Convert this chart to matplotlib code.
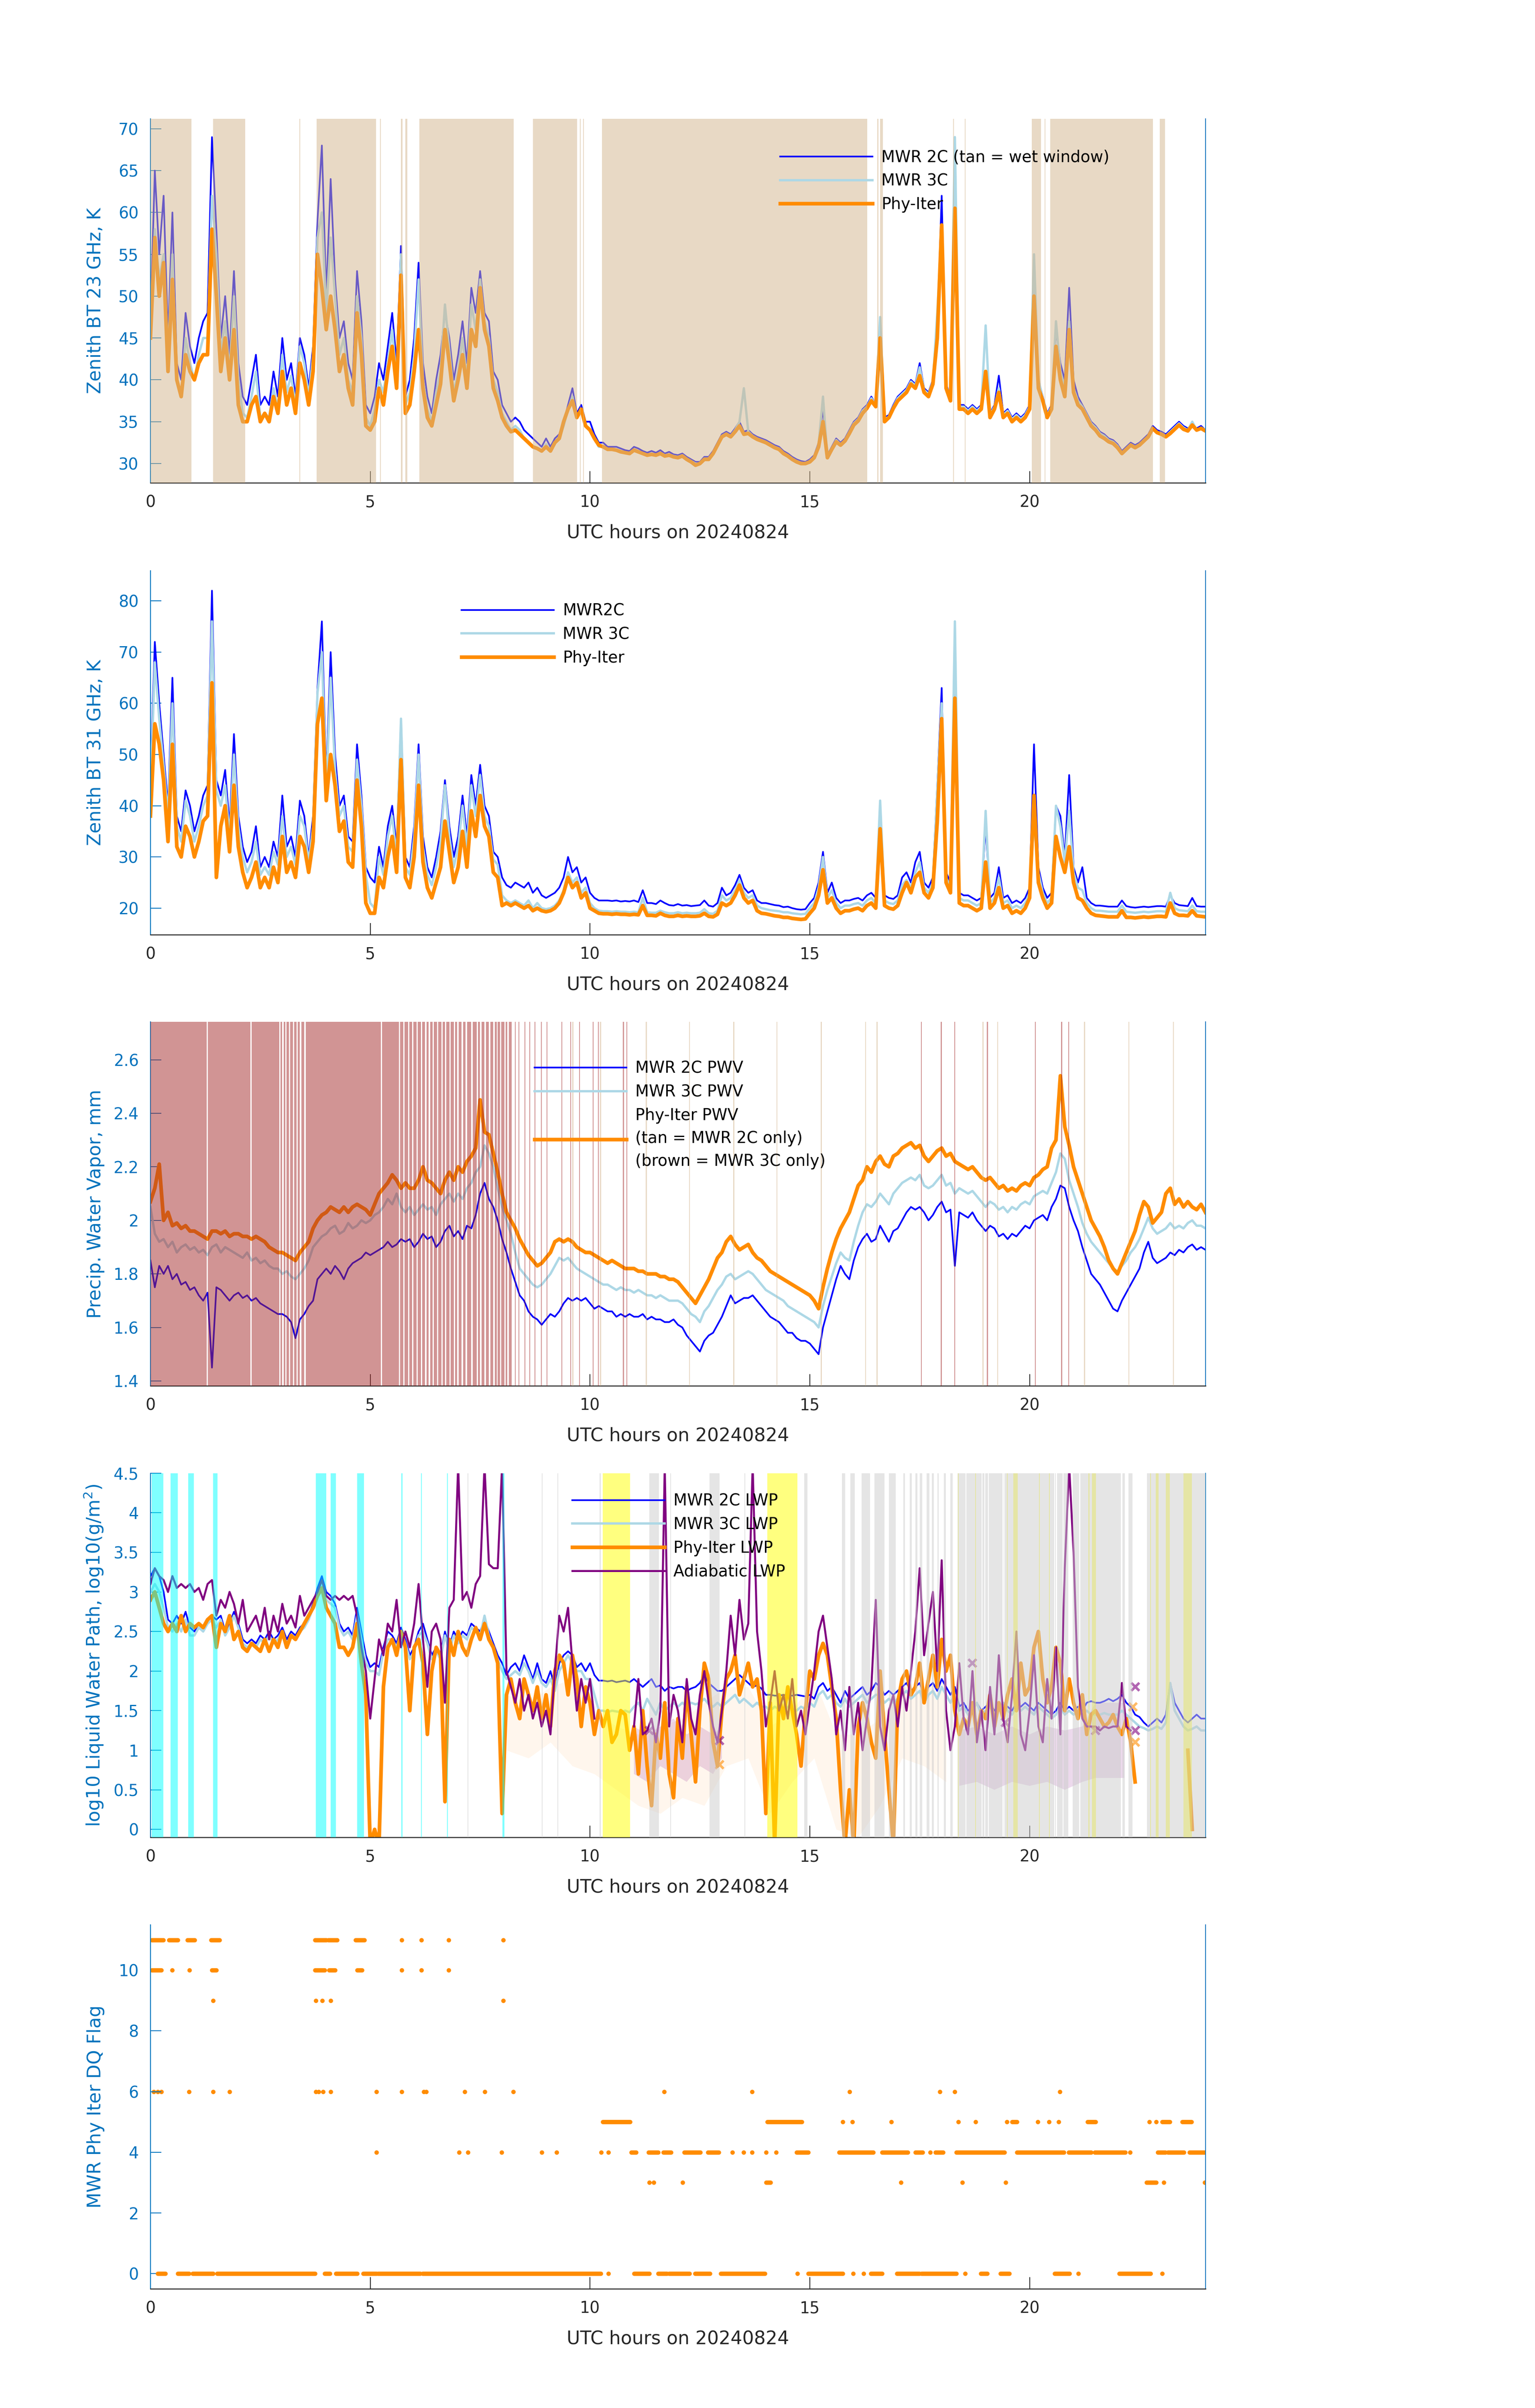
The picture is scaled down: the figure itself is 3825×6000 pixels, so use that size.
import matplotlib
matplotlib.use("Agg")

import matplotlib.pyplot as plt
import numpy as np
from matplotlib.ticker import FuncFormatter


def arr(s):
    return np.array(s.split(), dtype=float)


# time grid, UTC hours, 0.1 h steps
hours = np.linspace(0, 24, 241)

# ---- panel 1: zenith BT 23 GHz (K)
bt23_2c = arr("""
47 65 55 62 45 60 42 40 48 44
42 45 47 48 69 58 45 50 43 53
42 38 37 40 43 37 38 37 41 38
45 40 42 38 45 43 39 44 59 68
50 64 52 45 47 42 40 53 47 37
36 38 42 40 44 48 42 56 38 40
45 54 42 38 36 40 43 48 45 40
43 47 42 51 48 53 48 47 41 40
37 36 35 35.5 35 34 33.5 33 32.5 32
33 32 33 33.5 35 37 39 36 37 35
35 33.5 32.5 32.5 32 32 32 31.8 31.6 31.5
32 31.8 31.5 31.3 31.5 31.3 31.6 31.2 31.4 31.1
31 31.2 30.8 30.5 30.2 30.2 30.8 30.8 31.5 32.5
33.5 33.8 33.5 34.2 35 33.8 34 33.5 33.2 33
32.8 32.5 32.2 32 31.5 31.2 30.8 30.5 30.3 30.2
30.5 31 32.5 36.5 31 32 33 32.5 33 34
35 35.5 36.5 37 38 37 44 35.5 35.8 37
38 38.5 39 40 39.5 42 39 38.5 40 46
62 39.5 38 60 37 37 36.5 37 36.5 37
40 36 37 40.5 36 36.5 35.5 36 35.5 36
37 54 40 38 36 37 46 42 40 51
40 38 37 36 35 34.5 33.8 33.5 33 32.8
32.3 31.5 32 32.5 32.2 32.5 33 33.5 34.5 34
33.8 33.5 34 34.5 35 34.5 34.2 34.5 34.2 34.5
34
""")
bt23_3c = arr("""
45 58 52 55 43 55 40 38 45 42
40 43 45 45 62 55 43 47 41 50
40 36 35.5 38 41 35.5 36 35.5 39 36.5
43 38.5 40.5 37 44 42 38 43 57 60
48 57 50 43 45 40 38.5 50 45 35.5
34.5 36.5 40 38.5 42 46 40 55 37 38.5
43 52 40 36.5 35 38.5 41 49 43.5 38.5
41 45 40 49 46 52 47 45 40 38.5
36 35 34 34.5 34 33 32.5 32 31.8 31.5
32.3 31.5 32.5 33 34.5 36.5 38 35.5 36.5 34.5
34 33 32 32 31.7 31.7 31.7 31.5 31.3 31.2
31.7 31.5 31.2 31 31.2 31 31.3 31 31.1 30.9
30.8 31 30.6 30.3 30 30 30.6 30.6 31.3 32.3
33.3 33.6 33.3 34 35 39 33.8 33.3 33 32.8
32.6 32.3 32 31.8 31.3 31 30.6 30.3 30.1 30
30.3 30.8 32.3 38 30.8 31.8 32.8 32.3 32.8 33.8
34.8 35.3 36.3 36.8 37.8 37 47.5 35.3 35.6 36.8
37.8 38.3 38.8 39.8 39.3 41.5 38.8 38.3 39.8 48
58 39.3 37.8 69 36.8 36.8 36.3 36.8 36.3 36.8
46.5 35.8 36.8 39 35.8 36.3 35.3 35.8 35.3 35.8
36.8 55 40 37.8 35.8 36.8 47 41 39 47
39 37.5 36.8 35.8 34.8 34.3 33.6 33.3 32.8 32.6
32.1 31.3 31.8 32.3 32 32.3 32.8 33.3 34.3 33.8
33.6 33.3 33.8 34.3 34.8 34.3 34 35 34 34.3
34
""")
bt23_phy = arr("""
45 57 50 54 41 52 40 38 43 41
40 42 43 43 58 50 41 45 40 46
37 35 35 37 38 35 36 35 38 36
41 37 39 36 42 40 37 41 55 51
46 50 46 41 43 39 37 48 43 34.5
34 35 39 37 41 44 39 52.5 36 37
41 46 39 35.5 34.5 37 39.5 46 42 37.5
40 43 39 46 44 51 46 44 39 37.5
35.5 34.5 33.8 34 33.5 33 32.5 32 31.8 31.5
32 31.5 32.5 33 35 36.5 37.5 35.5 36.5 34.5
34 33 32.2 32 31.7 31.7 31.6 31.4 31.3 31.2
31.6 31.4 31.2 31 31.1 31 31.2 30.9 31 30.8
30.7 30.9 30.5 30.2 29.8 30 30.5 30.5 31.2 32.2
33.2 33.5 33.2 33.8 34.5 33.5 33.6 33.2 32.9 32.7
32.5 32.2 31.9 31.7 31.2 30.9 30.5 30.2 30 30
30.2 30.7 32 35 30.7 31.7 32.6 32.2 32.7 33.6
34.6 35.1 36 36.6 37.5 36.8 45 35 35.5 36.6
37.5 38 38.5 39.5 39 40.5 38.5 38 39.5 45
58.5 39 37.5 60.5 36.5 36.5 36 36.5 36 36.5
41 35.5 36.5 38.5 35.5 36 35 35.5 35 35.5
36.5 50 39 37.5 35.5 36.5 44 40 38 46
38.5 37 36.5 35.5 34.5 34 33.3 33 32.6 32.4
31.9 31.2 31.7 32.2 31.9 32.2 32.7 33.2 34.2 33.7
33.5 33.2 33.6 34.1 34.6 34.1 33.9 34.6 34 34.2
33.9
""")
wet_spans = [(0, 0.93), (1.43, 2.16), (3.39, 3.41), (3.78, 5.13), (5.22, 5.24),
             (5.70, 5.73), (5.80, 5.84), (6.12, 8.26), (8.70, 9.71), (9.77, 9.79),
             (9.84, 9.86), (10.27, 16.31), (16.53, 16.56), (16.60, 16.66),
             (18.26, 18.28), (18.52, 18.54), (20.05, 20.26), (20.34, 20.36),
             (20.47, 22.81), (22.96, 23.08)]

# ---- panel 2: zenith BT 31 GHz (K)
bt31_2c = arr("""
45 72 60 50 40 65 38 35 43 40
35 38 42 44 82 45 42 47 36 54
38 32 29 31 36 28 30 28 33 30
42 32 34 30 41 38 30 38 63 76
45 70 50 40 42 34 33 52 42 28
26 25 32 28 36 40 32 57 30 28
36 52 34 28 26 30 35 45 36 30
34 42 34 46 40 48 40 38 31 30
26 24.5 24 25 24.5 24 25 23 24 22.5
22 22.5 23 24 26 30 27 28 25 26
23 22 21.5 21.5 21.5 21.4 21.5 21.3 21.4 21.3
21.5 21.2 23.5 21 21 20.8 21.5 21 20.6 20.5
20.8 20.5 20.6 20.4 20.5 20.6 21.5 20.5 20.3 21
24 22.5 23 24.5 26.5 24 23 23.5 21.5 21
21 20.8 20.6 20.5 20.2 20.3 20 19.8 19.7 19.8
21 22 25 31 23 25 22 21 21.5 21.5
21.8 22 21.5 22.5 23 22 38 22.5 22 21.8
22.5 26 27 25 29 31 25 24 26 44
63 27 25 70 23 22.5 22.5 22 21.5 22
36 22 23 28 22 22.5 21 21.5 21 22
24 52 28 24 22 23 40 38 30 46
28 25 28 22 21 20.5 20.5 20.4 20.3 20.3
20.3 21.5 20.4 20.2 20.1 20.2 20.3 20.2 20.3 20.4
20.4 20.3 22.5 21 20.6 20.5 20.4 22 20.4 20.3
20.3
""")
bt31_3c = arr("""
42 68 57 48 38 60 36 33 41 38
33 36 40 42 76 43 40 44 34 50
36 30 27 29 33 26.5 28 26.5 31 28.5
38 30 32 28.5 38 36 29 36 62 70
43 65 47 38 40 32 31 49 40 26.5
21 20 30 26.5 34 38 30 57 28 26.5
34 50 32 26.5 24.5 28 33 44 34 28
32 40 32 44 38 46 38 36 29.5 28.5
22.5 21.5 21 21.5 21 20.5 21.5 20 21 20
19.8 20 20.5 21.5 23.5 27 25 26 23 24
21 20 19.5 19.4 19.4 19.3 19.4 19.3 19.3 19.2
19.3 19.2 22 19.2 19.1 19.1 19.5 19.2 19 19
19.2 19 19.1 19 19 19.1 19.8 19 18.9 19.5
22.5 21.5 22 23.5 25.5 23 22 22.5 20.5 20
19.8 19.6 19.5 19.4 19.2 19.2 19 18.9 18.8 18.9
20 21 24 30 22 23.5 21 20 20.5 20.5
20.8 21 20.5 21.5 22 21 41 21.5 21 20.8
21.5 24.5 25.5 24 27 29 24 23 25 43
60 26 24 76 22 21.5 21.5 21 20.5 21
39 21 22 26 21 21.5 20 20.5 20 21
23 37 27 23 21 22 40 36 29 39
27 24 23.5 21 20 19.5 19.5 19.4 19.3 19.3
19.3 20.5 19.3 19.2 19.1 19.2 19.3 19.2 19.3 19.4
19.4 19.3 23 20 19.6 19.5 19.4 20.5 19.4 19.3
19.3
""")
bt31_phy = arr("""
38 56 52 45 33 52 32 30 36 34
30 33 37 38 64 26 36 40 31 44
32 27 24 26 29 24 26 24 28 25
34 27 29 26 34 32 27 33 56 61
41 50 44 35 37 29 28 45 36 21
19 19 26 24 30 34 27 49 26 24
30 44 29 24 22 25 28 37 31 25
28 35 28 39 34 42 36 34 27 26
20.5 21 20.5 21 20.5 20 20.5 19.5 20 19.5
19.3 19.5 20 21 23 26 24 25 22 23
20 19.5 19 18.9 18.9 18.8 18.9 18.8 18.8 18.7
18.8 18.7 20.5 18.6 18.6 18.5 19 18.6 18.4 18.4
18.6 18.4 18.5 18.4 18.4 18.5 19 18.4 18.3 18.8
21 20.5 21 22.5 24.5 22 21 21.5 19.5 19
18.9 18.7 18.5 18.4 18.2 18.2 18 17.9 17.8 17.9
19 20 22.5 27.5 21 22 20 19 19.5 19.5
19.8 20 19.5 20.5 21 20 35.5 20.5 20 19.8
20.5 23 25 23 26 27 23 22 24 37
57 25 23 61 21 20.5 20.5 20 19.5 20
29 20 21 24 20 20.5 19 19.5 19 20
22 42 25 22 20 21 34 30 27 32
25 22 21.5 20 19 18.6 18.5 18.4 18.3 18.3
18.3 19.5 18.2 18.2 18.1 18.2 18.3 18.2 18.3 18.4
18.4 18.3 21 19 18.6 18.6 18.5 19.5 18.5 18.4
18.3
""")

# ---- panel 3: precipitable water vapour (mm)
pwv_2c = arr("""
1.85 1.75 1.83 1.80 1.83 1.78 1.80 1.76 1.77 1.74
1.75 1.72 1.70 1.73 1.45 1.75 1.74 1.72 1.70 1.72
1.73 1.71 1.72 1.70 1.71 1.69 1.68 1.67 1.66 1.65
1.65 1.64 1.62 1.56 1.63 1.65 1.68 1.70 1.78 1.80
1.82 1.80 1.83 1.81 1.78 1.82 1.84 1.85 1.86 1.88
1.87 1.88 1.89 1.90 1.92 1.90 1.91 1.93 1.92 1.93
1.90 1.92 1.95 1.93 1.94 1.90 1.92 1.96 1.98 1.94
1.96 1.93 1.98 1.97 2.02 2.10 2.14 2.08 2.05 2.00
1.93 1.88 1.82 1.77 1.72 1.70 1.66 1.64 1.63 1.61
1.63 1.65 1.64 1.66 1.69 1.71 1.70 1.71 1.70 1.71
1.69 1.67 1.68 1.67 1.66 1.66 1.64 1.65 1.64 1.65
1.64 1.64 1.65 1.63 1.64 1.63 1.63 1.62 1.62 1.63
1.61 1.60 1.57 1.55 1.53 1.51 1.55 1.57 1.58 1.61
1.64 1.68 1.72 1.69 1.70 1.71 1.71 1.72 1.70 1.68
1.66 1.64 1.63 1.62 1.60 1.58 1.58 1.56 1.55 1.55
1.54 1.52 1.50 1.60 1.66 1.72 1.78 1.83 1.80 1.78
1.85 1.90 1.93 1.95 1.92 1.93 1.98 1.95 1.92 1.96
1.97 2.00 2.03 2.05 2.04 2.05 2.03 2.00 2.02 2.05
2.07 2.03 2.04 1.83 2.03 2.02 2.01 2.03 2.00 1.98
1.96 1.98 1.97 1.94 1.95 1.93 1.95 1.94 1.96 1.98
1.97 2.00 2.01 2.02 2.00 2.05 2.08 2.13 2.12 2.05
2.00 1.96 1.90 1.85 1.80 1.78 1.76 1.73 1.70 1.67
1.66 1.70 1.73 1.76 1.79 1.82 1.88 1.92 1.86 1.84
1.85 1.86 1.88 1.87 1.89 1.88 1.90 1.91 1.89 1.90
1.89
""")
pwv_3c = arr("""
2.05 1.95 1.92 1.93 1.90 1.92 1.88 1.90 1.91 1.89
1.90 1.88 1.89 1.87 1.90 1.91 1.88 1.90 1.89 1.88
1.87 1.86 1.88 1.85 1.86 1.84 1.85 1.83 1.82 1.82
1.80 1.81 1.79 1.78 1.80 1.82 1.85 1.90 1.92 1.94
1.95 1.97 1.98 1.95 1.96 1.99 1.97 1.98 2.00 1.99
2.00 2.02 2.03 2.05 2.08 2.06 2.10 2.05 2.03 2.05
2.02 2.04 2.06 2.04 2.05 2.02 2.06 2.08 2.10 2.07
2.10 2.08 2.12 2.14 2.18 2.20 2.28 2.25 2.20 2.12
2.05 2.00 1.95 1.88 1.82 1.80 1.78 1.76 1.75 1.76
1.78 1.80 1.83 1.86 1.85 1.86 1.84 1.82 1.81 1.80
1.79 1.78 1.77 1.76 1.76 1.75 1.74 1.75 1.74 1.74
1.73 1.74 1.73 1.72 1.72 1.71 1.72 1.71 1.70 1.70
1.70 1.69 1.67 1.65 1.64 1.62 1.66 1.68 1.71 1.74
1.76 1.79 1.80 1.78 1.79 1.80 1.81 1.80 1.78 1.76
1.74 1.73 1.72 1.71 1.70 1.68 1.67 1.66 1.65 1.64
1.63 1.62 1.60 1.68 1.74 1.79 1.84 1.88 1.86 1.85
1.92 1.98 2.03 2.06 2.05 2.07 2.10 2.08 2.06 2.10
2.12 2.14 2.15 2.16 2.15 2.17 2.13 2.12 2.13 2.15
2.17 2.13 2.14 2.10 2.12 2.11 2.10 2.11 2.09 2.07
2.05 2.07 2.06 2.04 2.05 2.03 2.05 2.04 2.06 2.07
2.06 2.09 2.10 2.11 2.10 2.14 2.18 2.25 2.23 2.15
2.10 2.05 1.99 1.95 1.92 1.90 1.88 1.86 1.84 1.82
1.81 1.83 1.85 1.88 1.90 1.93 1.97 2.01 1.97 1.95
1.96 1.97 1.99 1.97 1.98 1.97 1.99 2.00 1.98 1.98
1.97
""")
pwv_phy = arr("""
2.07 2.12 2.21 2.00 2.03 1.98 1.99 1.97 1.98 1.96
1.96 1.95 1.94 1.93 1.96 1.96 1.95 1.96 1.94 1.95
1.95 1.94 1.94 1.93 1.94 1.93 1.92 1.90 1.89 1.88
1.88 1.87 1.86 1.85 1.88 1.90 1.92 1.97 2.00 2.02
2.03 2.05 2.04 2.03 2.05 2.03 2.05 2.06 2.05 2.04
2.02 2.06 2.10 2.12 2.14 2.17 2.15 2.12 2.14 2.12
2.12 2.15 2.20 2.15 2.14 2.12 2.10 2.15 2.18 2.15
2.20 2.18 2.22 2.24 2.27 2.45 2.33 2.32 2.25 2.18
2.10 2.03 2.00 1.97 1.93 1.90 1.87 1.85 1.83 1.84
1.86 1.88 1.92 1.93 1.92 1.93 1.92 1.90 1.89 1.88
1.88 1.87 1.86 1.85 1.84 1.85 1.84 1.83 1.82 1.82
1.82 1.81 1.81 1.80 1.80 1.80 1.79 1.79 1.78 1.78
1.77 1.75 1.73 1.71 1.69 1.72 1.75 1.78 1.82 1.86
1.88 1.92 1.94 1.91 1.89 1.90 1.91 1.88 1.86 1.85
1.83 1.81 1.80 1.79 1.78 1.77 1.76 1.75 1.74 1.73
1.72 1.70 1.67 1.75 1.82 1.88 1.93 1.97 2.00 2.03
2.08 2.13 2.15 2.20 2.18 2.22 2.24 2.21 2.20 2.24
2.25 2.27 2.28 2.29 2.27 2.28 2.24 2.22 2.24 2.26
2.27 2.24 2.25 2.22 2.21 2.20 2.19 2.20 2.18 2.16
2.15 2.16 2.14 2.12 2.13 2.11 2.12 2.11 2.13 2.14
2.13 2.16 2.17 2.19 2.20 2.27 2.30 2.54 2.35 2.28
2.20 2.15 2.10 2.05 2.00 1.97 1.94 1.90 1.85 1.82
1.80 1.84 1.88 1.92 1.96 2.02 2.07 2.05 1.99 2.01
2.03 2.10 2.12 2.06 2.08 2.05 2.07 2.05 2.04 2.06
2.03
""")
brown_spans = [(0, 1.28), (1.31, 2.27), (2.30, 2.93), (2.96, 3.00), (3.03, 3.07),
               (3.10, 3.15), (3.18, 3.24), (3.27, 3.32), (3.35, 3.40), (3.43, 3.50),
               (3.53, 5.24), (5.27, 5.65), (5.68, 5.75), (5.78, 5.86), (5.89, 5.95),
               (5.98, 6.05), (6.08, 6.15), (6.18, 6.25), (6.28, 6.33), (6.36, 6.42),
               (6.45, 6.52), (6.55, 6.62), (6.65, 6.70), (6.73, 6.80), (6.83, 6.90),
               (6.93, 6.98), (7.01, 7.08), (7.11, 7.17), (7.20, 7.30), (7.33, 7.42),
               (7.45, 7.50), (7.53, 7.60), (7.63, 7.70), (7.73, 7.80), (7.83, 7.88),
               (7.90, 7.95), (7.98, 8.05), (8.08, 8.12), (8.15, 8.22)]
brown_lines = [8.30, 8.38, 8.52, 8.63, 8.75, 8.89, 9.02, 9.36, 9.56, 9.76, 10.07,
               10.19, 10.76, 10.84, 17.54, 17.99, 18.30, 19.04, 20.13, 20.73, 20.89]
tan_lines = [9.61, 10.24, 11.28, 12.26, 13.27, 14.25, 15.26, 16.27, 16.53, 18.94,
             19.27, 21.25, 22.26, 23.27]

# ---- panel 4: log10 liquid water path
lwp_2c = arr("""
3.2 3.3 3.2 3.0 2.65 2.6 2.7 2.6 2.75 2.55
2.5 2.6 2.55 2.65 2.7 2.65 2.7 2.5 2.6 2.75
2.6 2.4 2.35 2.4 2.35 2.45 2.4 2.5 2.4 2.45
2.55 2.4 2.5 2.45 2.55 2.6 2.7 2.85 3.05 3.2
3.0 2.95 2.85 2.6 2.5 2.55 2.45 2.8 2.5 2.2
2.05 2.1 2.05 2.3 2.5 2.45 2.35 2.55 2.4 2.2
2.3 2.5 2.6 2.4 2.2 2.3 2.2 2.5 2.3 2.5
2.4 2.5 2.45 2.6 2.55 2.5 2.65 2.5 2.35 2.2
2.1 1.95 2.05 2.1 2.0 2.2 2.05 1.9 2.1 1.9
1.85 2.0 1.8 2.1 2.2 2.25 2.2 2.05 2.1 2.0
2.1 1.95 1.88 1.88 1.87 1.88 1.86 1.87 1.88 1.86
1.9 1.85 1.8 1.85 1.9 1.8 1.82 1.75 1.8 1.78
1.8 1.8 1.75 1.78 1.8 1.85 1.95 1.85 1.8 1.75
1.75 1.8 1.85 1.9 1.95 1.9 1.85 1.8 1.82 1.78
1.7 1.7 1.69 1.69 1.7 1.69 1.69 1.7 1.69 1.68
1.7 1.65 1.8 1.85 1.75 1.8 1.7 1.6 1.75 1.65
1.7 1.75 1.8 1.7 1.75 1.85 1.8 1.7 1.75 1.7
1.75 1.8 1.85 1.75 1.8 1.85 1.7 1.8 1.85 1.75
1.9 1.8 1.7 1.8 1.55 1.6 1.5 1.55 1.6 1.5
1.55 1.6 1.5 1.55 1.6 1.55 1.5 1.6 1.55 1.6
1.55 1.5 1.6 1.55 1.5 1.45 1.5 1.6 1.5 1.55
1.5 1.55 1.5 1.6 1.62 1.6 1.6 1.62 1.65 1.62
1.65 1.7 1.6 1.55 1.45 1.42 1.35 1.3 1.35 1.4
1.35 1.45 1.85 1.6 1.5 1.4 1.35 1.4 1.45 1.4
1.4
""")
lwp_3c = arr("""
3.0 3.1 3.0 2.8 2.55 2.5 2.6 2.5 2.65 2.45
2.45 2.55 2.5 2.6 2.65 2.55 2.65 2.45 2.55 2.7
2.55 2.35 2.3 2.35 2.3 2.4 2.35 2.45 2.35 2.4
2.5 2.35 2.45 2.4 2.5 2.55 2.65 2.8 2.95 3.1
2.9 2.85 2.8 2.55 2.45 2.5 2.4 2.7 2.4 2.1
2.0 2.0 1.95 2.25 2.4 2.4 2.3 2.5 2.35 2.15
2.25 2.45 2.5 2.35 2.15 2.25 2.15 2.45 2.25 2.45
2.35 2.45 2.4 2.55 2.5 2.45 2.7 2.45 2.3 2.15
2.0 1.9 1.95 2.0 1.95 2.1 2.0 1.85 2.0 1.85
1.8 1.9 1.75 2.0 2.1 2.2 2.1 2.0 2.0 1.9
1.9 1.7 1.5 1.5 1.48 1.5 1.49 1.48 1.5 1.48
1.55 1.6 1.5 1.65 1.55 1.45 1.6 1.5 1.55 1.6
1.55 1.6 1.55 1.6 1.58 1.6 1.65 1.58 1.55 1.6
1.55 1.6 1.65 1.7 1.6 1.65 1.6 1.55 1.6 1.55
1.55 1.5 1.55 1.52 1.5 1.55 1.52 1.5 1.55 1.52
1.6 1.55 1.7 1.75 1.65 1.7 1.6 1.55 1.65 1.55
1.6 1.65 1.7 1.6 1.65 1.7 1.7 1.6 1.65 1.6
1.65 1.7 1.75 1.65 1.7 1.75 1.6 1.7 1.75 1.65
1.8 1.7 1.6 1.7 1.5 1.55 1.45 1.5 1.6 1.45
1.5 1.55 1.45 1.5 1.6 1.5 1.45 1.55 1.5 1.55
1.5 1.45 1.55 1.5 1.45 1.4 1.45 1.55 1.45 1.5
1.45 1.5 1.45 1.5 1.45 1.45 1.45 1.47 1.45 1.45
1.45 1.5 1.45 1.4 1.35 1.3 1.28 1.25 1.27 1.3
1.27 1.35 1.85 1.5 1.4 1.3 1.25 1.27 1.3 1.25
1.25
""")
lwp_phy = arr("""
2.9 3.0 2.8 2.6 2.5 2.6 2.5 2.7 2.5 2.6
2.55 2.6 2.55 2.65 2.7 2.3 2.6 2.5 2.7 2.4
2.5 2.3 2.25 2.35 2.3 2.25 2.4 2.25 2.4 2.3
2.5 2.3 2.45 2.4 2.5 2.6 2.7 2.8 2.95 3.05
2.8 2.7 2.6 2.3 2.3 2.2 2.3 2.6 2.1 1.7
-0.2 0.0 -0.2 1.8 2.3 2.4 2.2 2.5 2.3 1.5
2.3 2.4 2.1 1.2 2.0 2.3 2.2 0.35 2.4 2.2
2.5 2.3 2.2 2.4 2.55 2.4 2.6 2.4 2.3 2.1
0.2 1.7 1.9 1.6 1.4 1.9 1.7 1.5 1.8 1.4
1.7 1.3 2.0 2.2 2.1 1.7 2.2 1.9 1.3 1.8
1.6 1.2 1.5 1.3 1.5 1.1 1.2 1.5 1.45 1.0
1.3 0.7 1.5 0.8 0.3 1.2 0.9 1.6 0.7 0.4
1.4 0.9 1.8 1.2 0.6 1.5 2.1 1.9 1.1 0.8
1.5 1.9 2.0 2.2 1.7 1.9 2.1 1.8 1.9 1.5
0.2 1.6 -0.2 1.7 1.4 1.8 1.5 1.2 0.8 1.5
2.0 1.9 2.2 2.35 2.2 1.8 1.4 0.5 -0.2 0.5
-0.2 1.3 1.6 1.4 1.1 0.9 2.0 1.2 0.5 -0.2
1.6 1.9 2.0 1.7 1.8 2.1 1.6 1.9 2.2 1.8
2.4 2.0 2.2 1.5 1.2 1.4 1.3 1.6 1.2 1.5
1.4 1.7 1.3 1.6 1.4 1.7 1.9 1.5 2.1 1.7
1.8 2.3 2.5 1.9 1.6 1.8 2.3 2.1 1.5 1.9
1.6 1.4 1.7 1.2 1.45 1.5 1.4 1.3 1.35 1.45
1.3 1.2 1.4 1.1 0.6 nan nan nan nan nan
nan nan nan nan nan nan 1.0 0.0 nan nan
nan
""")
lwp_adiab = arr("""
3.1 3.3 3.2 3.15 3.0 3.2 3.05 3.1 3.05 3.1
3.0 3.05 2.9 3.1 3.15 2.7 2.9 2.8 3.0 2.85
2.6 2.9 2.5 2.6 2.7 2.5 2.8 2.4 2.7 2.5
2.85 2.6 2.7 2.55 2.95 2.7 2.8 2.9 3.0 3.15
2.95 2.9 2.95 2.9 2.95 2.9 2.95 2.7 2.3 2.0
1.4 1.9 2.4 2.2 2.6 2.5 2.9 2.3 2.5 2.3
2.6 3.1 2.4 1.8 2.5 2.6 2.4 1.6 2.8 2.9
4.6 2.9 3.0 2.8 3.1 3.2 4.6 3.35 3.3 3.3
4.6 2.0 1.8 1.6 1.9 1.5 1.7 1.4 1.6 1.3
1.5 1.2 2.0 2.7 2.5 2.8 2.1 1.5 1.9 1.6
1.9 1.4 nan nan nan nan nan nan nan nan
1.3 1.9 1.2 1.25 1.4 1.1 1.5 4.6 1.3 1.7
1.5 1.1 1.9 1.4 1.2 1.7 2.0 1.6 1.3 1.1
1.5 2.0 2.7 2.2 2.9 2.4 2.6 4.6 2.5 2.0
1.3 1.6 2.0 1.5 1.7 1.4 1.9 1.3 1.5 1.2
1.6 2.0 2.5 2.7 2.3 1.9 1.2 1.5 1.0 1.8
1.2 1.6 1.0 1.4 1.8 2.9 1.3 1.0 1.5 1.7
1.3 1.8 1.5 2.0 2.5 3.3 2.2 2.6 3.0 2.0
3.4 1.5 1.0 1.3 2.1 1.4 1.2 2.0 1.1 1.5
1.0 1.8 1.2 2.2 1.4 1.1 1.7 2.5 1.2 1.0
1.5 2.2 1.3 1.1 1.9 1.4 2.3 1.2 3.3 4.6
3.5 1.8 1.4 1.3 1.3 1.3 1.25 1.3 1.28 1.3
1.3 1.85 1.3 1.25 nan nan nan nan nan nan
nan nan nan nan nan nan 1.2 nan nan nan
nan
""")
# faint uncertainty envelopes (adiabatic and Phy-Iter)
adiab_band_t = [11.0, 11.3, 11.6, 11.9, 12.2, 12.5, 12.8, 13.0, np.nan,
                18.4, 18.8, 19.2, 19.6, 20.0, 20.4, 20.8, 21.2, 21.5, 21.8, 22.15]
adiab_band_lo = [0.7, 0.6, 0.8, 0.7, 0.6, 0.8, 0.7, 0.9, np.nan,
                 0.55, 0.6, 0.5, 0.6, 0.55, 0.6, 0.5, 0.6, 0.65, 0.65, 0.65]
adiab_band_hi = [1.3, 1.2, 1.3, 1.4, 1.2, 1.3, 1.2, 1.3, np.nan,
                 1.25, 1.3, 1.2, 1.3, 1.2, 1.3, 1.25, 1.3, 1.6, 1.6, 1.6]
phy_band_t = [8.1, 8.6, 9.1, 9.6, 10.1, 10.6, 11.1, 11.6, 12.1, 12.6, 13.1,
              13.6, 14.1, 14.6, 15.1, 15.6, 16.1, 16.6, 17.1, 17.6, 18.1]
phy_band_lo = [1.0, 0.9, 1.1, 0.8, 0.7, 0.5, 0.3, 0.2, 0.4, 0.3, 0.8,
               0.9, 0.2, 0.6, 0.9, 0.0, -0.1, 0.3, 0.9, 0.8, 0.6]
phy_band_hi = [1.7, 1.6, 1.8, 1.9, 1.5, 1.3, 1.2, 1.3, 1.4, 1.6, 1.8,
               1.8, 1.3, 1.5, 1.9, 1.2, 1.2, 1.4, 1.8, 1.8, 1.9]
adiab_x_t = [11.35, 12.95, 18.7, 19.45, 21.5, 22.4, 22.4]
adiab_x_v = [1.25, 1.12, 2.1, 1.35, 1.25, 1.8, 1.25]
phy_x_t = [12.95, 22.4, 22.35]
phy_x_v = [0.82, 1.1, 1.55]
cyan_spans = [(0.03, 0.29), (0.46, 0.62), (0.86, 0.99), (1.43, 1.53), (3.76, 4.0),
              (4.1, 4.22), (4.7, 4.86), (5.71, 5.73), (6.15, 6.17), (6.75, 6.77),
              (8.01, 8.05)]
yellow_spans = [(10.29, 10.91), (14.03, 14.72), (18.37, 18.39), (18.76, 18.78),
                (19.48, 19.5), (19.63, 19.73), (20.21, 20.23), (20.44, 20.46),
                (21.34, 21.36), (21.42, 21.51), (22.74, 22.76), (22.87, 22.93),
                (23.1, 23.19), (23.5, 23.69)]
gray_spans = [(7.21, 7.23), (8.9, 8.92), (9.26, 9.28), (10.22, 10.24), (11.35, 11.57),
              (11.82, 11.84), (12.72, 12.95), (13.51, 13.53), (14.87, 14.95),
              (15.73, 15.8), (15.92, 16.02), (16.18, 16.37), (16.47, 16.7),
              (16.8, 16.95), (17.13, 17.16), (17.27, 17.32), (17.4, 17.45),
              (17.5, 17.56), (17.66, 17.72), (17.78, 17.82), (17.9, 17.93),
              (18.05, 18.1), (18.2, 18.25), (18.36, 18.54), (18.56, 18.91),
              (18.93, 18.97), (18.99, 19.05), (19.07, 19.38), (19.4, 19.41),
              (19.43, 20.56), (20.58, 20.6), (20.62, 20.75), (20.77, 20.88),
              (20.98, 21.13), (21.15, 22.08), (22.11, 22.17), (22.25, 22.34),
              (22.67, 24.0)]

# ---- panel 5: DQ flag, runs (flag, start, end) and single samples (flag, time)
flag_runs = [
    (11, 0.03, 0.29), (11, 0.42, 0.62), (11, 0.84, 1.01), (11, 1.38, 1.57),
    (11, 3.74, 4.0), (11, 4.05, 4.25), (11, 4.67, 4.87),
    (10, 0.03, 0.25), (10, 1.4, 1.5), (10, 3.74, 3.96), (10, 4.06, 4.2), (10, 4.7, 4.81),
    (5, 10.29, 10.91), (5, 14.03, 14.82), (5, 19.6, 19.71), (5, 21.32, 21.5),
    (5, 23.02, 23.19), (5, 23.47, 23.68),
    (4, 10.94, 11.05), (4, 11.33, 11.55), (4, 11.67, 11.84), (4, 12.14, 12.51),
    (4, 12.68, 12.93), (4, 14.7, 14.96), (4, 15.67, 16.44), (4, 16.64, 17.23),
    (4, 17.4, 17.57), (4, 17.86, 18.03), (4, 18.33, 19.43), (4, 19.71, 20.78),
    (4, 20.89, 21.4), (4, 21.48, 22.18), (4, 22.92, 23.09), (4, 23.14, 23.51),
    (4, 23.64, 23.98),
    (3, 14.01, 14.11), (3, 22.66, 22.88),
    (0, 0.17, 0.34), (0, 0.62, 0.88), (0, 0.96, 1.43), (0, 1.52, 3.74), (0, 3.96, 4.08),
    (0, 4.22, 4.7), (0, 4.84, 5.14), (0, 5.18, 6.14), (0, 6.19, 10.24), (0, 11.0, 11.35),
    (0, 11.55, 11.75), (0, 11.8, 12.26), (0, 12.39, 12.73), (0, 12.97, 13.98),
    (0, 14.96, 15.75), (0, 16.39, 16.64), (0, 16.98, 17.49), (0, 17.54, 18.33),
    (0, 18.89, 19.04), (0, 19.34, 19.54), (0, 20.57, 20.91), (0, 22.04, 22.75)]
flag_dots = [
    (11, 5.72), (11, 6.16), (11, 6.78), (11, 8.03),
    (10, 0.49), (10, 0.89), (10, 5.72), (10, 6.16), (10, 6.78),
    (9, 1.43), (9, 3.76), (9, 3.91), (9, 4.1), (9, 8.03),
    (6, 0.07), (6, 0.17), (6, 0.25), (6, 0.88), (6, 1.43), (6, 1.8), (6, 3.76),
    (6, 3.83), (6, 3.93), (6, 4.1), (6, 5.14), (6, 5.72), (6, 6.22), (6, 6.27),
    (6, 7.15), (6, 7.61), (6, 8.25), (6, 11.69), (6, 13.69), (6, 15.9), (6, 17.96),
    (6, 18.3), (6, 20.69),
    (5, 15.75), (5, 15.97), (5, 16.85), (5, 18.38), (5, 18.77), (5, 19.48),
    (5, 20.19), (5, 20.44), (5, 20.66), (5, 22.72), (5, 22.88),
    (4, 5.14), (4, 7.02), (4, 7.22), (4, 7.99), (4, 8.9), (4, 9.24), (4, 10.25),
    (4, 10.42), (4, 13.24), (4, 13.49), (4, 13.69), (4, 14.01), (4, 14.23), (4, 17.74),
    (4, 22.29),
    (3, 11.35), (3, 11.45), (3, 12.11), (3, 17.07), (3, 18.47), (3, 19.46), (3, 23.05),
    (3, 23.98),
    (0, 10.42), (0, 14.72), (0, 15.99), (0, 16.22), (0, 18.53), (0, 21.11), (0, 23.02)]

for nm, a in [("bt23_2c", bt23_2c), ("bt23_3c", bt23_3c), ("bt23_phy", bt23_phy),
              ("bt31_2c", bt31_2c), ("bt31_3c", bt31_3c), ("bt31_phy", bt31_phy),
              ("pwv_2c", pwv_2c), ("pwv_3c", pwv_3c), ("pwv_phy", pwv_phy),
              ("lwp_2c", lwp_2c), ("lwp_3c", lwp_3c), ("lwp_phy", lwp_phy),
              ("lwp_adiab", lwp_adiab)]:
    assert len(a) == len(hours), (nm, len(a))

c_ax = "#0072BD"
c_k = "#262626"
c_2c = "#0000FF"
c_3c = "#ADD8E6"
c_phy = "#FF8C00"
c_ad = "#800080"

fig = plt.figure(figsize=(12.75, 20), dpi=300)
L, W, H = 0.098, 0.6873, 0.1512
bots = [0.7995, 0.6118, 0.4245, 0.2370, 0.0495]
axs = [fig.add_axes([L, b, W, H]) for b in bots]


def style(ax, ylim, yticks, ylab, lx=-0.052):
    ax.set_xlim(0, 24)
    ax.set_ylim(*ylim)
    ax.set_yticks(yticks)
    ax.set_xticks([0, 5, 10, 15, 20])
    ax.yaxis.set_major_formatter(FuncFormatter(lambda v, p: f"{v:g}"))
    ax.spines["top"].set_visible(False)
    for s in ["left", "right"]:
        ax.spines[s].set_color(c_ax)
        ax.spines[s].set_linewidth(0.5)
    ax.spines["bottom"].set_color(c_k)
    ax.spines["bottom"].set_linewidth(0.6)
    ax.tick_params(axis="y", direction="in", length=6.5, width=0.5, colors=c_ax,
                   labelsize=9.5, pad=7)
    ax.tick_params(axis="x", direction="in", length=7, width=0.5, colors=c_k,
                   labelsize=9.5, pad=7)
    ax.set_xlabel("UTC hours on 20240824", fontsize=11, color=c_k, labelpad=8)
    ax.set_ylabel(ylab, fontsize=11, color=c_ax, va="center")
    ax.yaxis.set_label_coords(lx, 0.5)


def leg(ax, x, y):
    lg = ax.legend(loc="upper left", bbox_to_anchor=(x, y), frameon=False,
                   fontsize=9.5, handlelength=5.8, handletextpad=0.55,
                   labelspacing=0.47, borderpad=0, borderaxespad=0)
    lg.set_zorder(6)
    return lg


# panel 1
ax = axs[0]
ax.plot(hours, bt23_2c, color=c_2c, lw=1.0, label="MWR 2C (tan = wet window)")
ax.plot(hours, bt23_3c, color=c_3c, lw=1.4, label="MWR 3C")
ax.plot(hours, bt23_phy, color=c_phy, lw=2.2, label="Phy-Iter")
for a, b in wet_spans:
    ax.axvspan(a, b, color="tan", alpha=0.5, lw=0, zorder=3)
style(ax, (27.7, 71.2), range(30, 71, 5), "Zenith BT 23 GHz, K")
leg(ax, 0.597, 0.915)

# panel 2
ax = axs[1]
ax.plot(hours, bt31_2c, color=c_2c, lw=1.0, label="MWR2C")
ax.plot(hours, bt31_3c, color=c_3c, lw=1.4, label="MWR 3C")
ax.plot(hours, bt31_phy, color=c_phy, lw=2.2, label="Phy-Iter")
style(ax, (14.8, 85.9), range(20, 81, 10), "Zenith BT 31 GHz, K")
leg(ax, 0.295, 0.911)

# panel 3
ax = axs[2]
ax.plot(hours, pwv_2c, color=c_2c, lw=1.0, label="MWR 2C PWV")
ax.plot(hours, pwv_3c, color=c_3c, lw=1.4, label="MWR 3C PWV")
ax.plot(hours, pwv_phy, color=c_phy, lw=2.2,
        label="Phy-Iter PWV\n(tan = MWR 2C only)\n(brown = MWR 3C only)")
for a, b in brown_spans:
    ax.axvspan(a, b, color="brown", alpha=0.5, lw=0, zorder=3)
for t in brown_lines:
    ax.axvspan(t - 0.01, t + 0.01, color="brown", alpha=0.5, lw=0, zorder=3)
for t in tan_lines:
    ax.axvspan(t - 0.01, t + 0.01, color="tan", alpha=0.5, lw=0, zorder=3)
style(ax, (1.382, 2.742), [1.4, 1.6, 1.8, 2.0, 2.2, 2.4, 2.6], "Precip. Water Vapor, mm")
lg = leg(ax, 0.364, 0.893)
for tx in lg.get_texts():
    tx.set_linespacing(1.55)

# panel 4
ax = axs[3]
ax.fill_between(phy_band_t, phy_band_lo, phy_band_hi, color=c_phy, alpha=0.07, lw=0)
ax.fill_between(adiab_band_t, adiab_band_lo, adiab_band_hi, color=c_ad, alpha=0.15, lw=0)
ax.plot(hours, lwp_2c, color=c_2c, lw=1.0, label="MWR 2C LWP")
ax.plot(hours, lwp_3c, color=c_3c, lw=1.4, label="MWR 3C LWP")
ax.plot(hours, lwp_phy, color=c_phy, lw=2.2, label="Phy-Iter LWP")
ax.plot(hours, lwp_adiab, color=c_ad, lw=1.2, label="Adiabatic LWP")
ax.plot(adiab_x_t, adiab_x_v, ls="none", marker="x", ms=5, mew=1.5, color=c_ad, alpha=0.6)
ax.plot(phy_x_t, phy_x_v, ls="none", marker="x", ms=5, mew=1.5, color=c_phy, alpha=0.6)
for a, b in cyan_spans:
    ax.axvspan(a, b, color="cyan", alpha=0.5, lw=0, zorder=3)
for a, b in yellow_spans:
    ax.axvspan(a, b, color="yellow", alpha=0.5, lw=0, zorder=3)
for a, b in gray_spans:
    ax.axvspan(a, b, color="#CCCCCC", alpha=0.5, lw=0, zorder=3)
style(ax, (-0.1, 4.5), np.arange(0, 4.51, 0.5),
      r"log10 Liquid Water Path, log10(g/m$^2$)", lx=-0.054)
leg(ax, 0.400, 0.945)

# panel 5
ax = axs[4]
for f, a, b in flag_runs:
    ax.plot([a, b], [f, f], color=c_phy, lw=2.6, solid_capstyle="round")
ax.scatter([d[1] for d in flag_dots], [d[0] for d in flag_dots], s=7, color=c_phy, lw=0)
style(ax, (-0.5, 11.5), range(0, 11, 2), "MWR Phy Iter DQ Flag")

fig.savefig("out.png", dpi=300)
